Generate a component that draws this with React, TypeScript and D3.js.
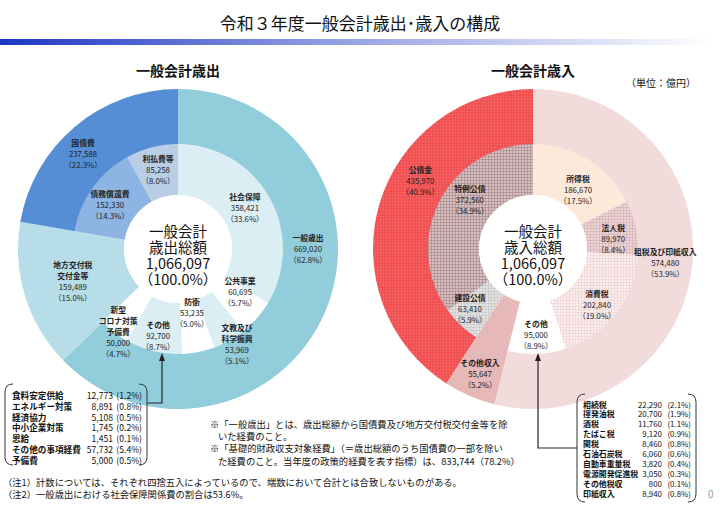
import React from 'react';
import * as d3 from 'd3';

const TOTAL = 1066097;

// 歳出
const expOuterNames = ['一般歳出', '地方交付税\n交付金等', '国債費'];
const expOuterValues = [669020, 159489, 237588];
const expInnerNames = ['社会保障', '公共事業', '文教及び\n科学振興', '防衛', 'その他', '新型\nコロナ対策\n予備費', '', '債務償還費', '利払費等'];
const expInnerValues = [358421, 60695, 53969, 53235, 92700, 50000, 159489, 152330, 85258];

// 歳入
const revOuterNames = ['租税及び印紙収入', 'その他収入', '公債金'];
const revOuterValues = [574480, 55647, 435970];
const revInnerNames = ['所得税', '法人税', '消費税', 'その他', '', '建設公債', '特例公債'];
const revInnerValues = [186670, 89970, 202840, 95000, 55647, 63410, 372560];

// 内訳
const expDetailNames = ['食料安定供給', 'エネルギー対策', '経済協力', '中小企業対策', '恩給', 'その他の事項経費', '予備費'];
const expDetailValues = [12773, 8891, 5108, 1745, 1451, 57732, 5000];
const revDetailNames = ['相続税', '揮発油税', '酒税', 'たばこ税', '関税', '石油石炭税', '自動車重量税', '電源開発促進税', 'その他税収', '印紙収入'];
const revDetailValues = [22290, 20700, 11760, 9120, 8460, 6060, 3820, 3050, 800, 8940];

// label placement (angle deg clockwise from top, radius)
const expOuterLabelPos: ([number, number] | null)[] = [[89.6, 130], [253, 110], [315.3, 135]];
const expInnerLabelPos: ([number, number] | null)[] = [[58.5, 78.5], [124.7, 75.5], [148.2, 112], [167.7, 65.5], [192.9, 89], [215.9, 102], null, [303.5, 81.5], [345.8, 81.5]];
const revOuterLabelPos: ([number, number] | null)[] = [[96, 133], [203.1, 135], [301.4, 132]];
const revInnerLabelPos: ([number, number] | null)[] = [[36.9, 75], [82.2, 81], [131.2, 85], [178, 86], null, [226.4, 87], [307.9, 80]];

const expOuterFill = ['#92cddc', '#b7dee8', '#558ed5'];
const expInnerFill = ['#dbeef4', '#ffffff', '#dbeef4', '#ffffff', '#dbeef4', '#ffffff', '#b7dee8', '#8eb4e3', '#b9cde5'];
const revOuterFill = ['#f2dcdb', '#e6b9b8', 'url(#pRed)'];
const revInnerFill = ['#fde9d9', 'url(#pPink)', 'url(#pLight)', '#ffffff', '#e6b9b8', 'url(#pGrey)', 'url(#pMauve)'];

const FONT = '"Noto Sans CJK JP", "Noto Sans", sans-serif';
const fmt = d3.format(',');
const pct = (v: number) => (v / TOTAL * 100).toFixed(1);

const R0 = 54, R1 = 105, R2 = 160;
const C1 = { x: 178, y: 249 };
const C2 = { x: 533, y: 249 };

function polar(c: { x: number; y: number }, deg: number, r: number) {
  const a = (deg * Math.PI) / 180;
  return { x: c.x + r * Math.sin(a), y: c.y - r * Math.cos(a) };
}

function Donut({ c, outerV, outerF, innerV, innerF }: any) {
  const pie = d3.pie<number>().sort(null).value((d) => d);
  const oArcs = pie(outerV);
  const iArcs = pie(innerV);
  const oa = d3.arc<d3.PieArcDatum<number>>().innerRadius(R1 - 0.5).outerRadius(R2);
  const ia = d3.arc<d3.PieArcDatum<number>>().innerRadius(R0).outerRadius(R1);
  return (
    <g transform={`translate(${c.x},${c.y})`}>
      {oArcs.map((a, i) => <path key={'o' + i} d={oa(a) || ''} fill={outerF[i]} />)}
      {iArcs.map((a, i) => <path key={'i' + i} d={ia(a) || ''} fill={innerF[i]} />)}
      <circle r={R0} fill="#fff" />
    </g>
  );
}

function Labels({ c, names, values, pos }: any) {
  return (
    <g fontFamily={FONT} fontSize={7.8} fill="#222" textAnchor="middle">
      {names.map((n: string, i: number) => {
        const p = pos[i];
        if (!p || !n) return null;
        const pt = polar(c, p[0], p[1]);
        const lines = [...n.split('\n'), fmt(values[i]), `（${pct(values[i])}%）`];
        const nn = n.split('\n').length;
        const lh = 11;
        return (
          <g key={i}>
            {lines.map((t, j) => (
              <text key={j} x={pt.x} y={pt.y + (j - (lines.length - 1) / 2) * lh} dominantBaseline="central" fontWeight={j < nn ? 'bold' : 'normal'}>{t}</text>
            ))}
          </g>
        );
      })}
    </g>
  );
}

function CenterText({ c, label }: any) {
  const lines = ['一般会計', label, fmt(TOTAL), '（100.0%）'];
  return (
    <text fontFamily={FONT} fontSize={14.5} fill="#111" textAnchor="middle" x={c.x} y={c.y - 12}>
      {lines.map((t, j) => (
        <tspan key={j} x={c.x} dy={j === 0 ? 0 : 16}>{t}</tspan>
      ))}
    </text>
  );
}

function DetailList({ names, values, x0, y0, dy, numX, pctX, fs }: any) {
  return (
    <g fontFamily={FONT} fontSize={fs} fill="#111">
      {names.map((n: string, i: number) => (
        <g key={i}>
          <text x={x0} y={y0 + i * dy} dominantBaseline="central" fontWeight="bold">{n}</text>
          <text x={numX} y={y0 + i * dy} dominantBaseline="central" textAnchor="end">{fmt(values[i])}</text>
          <text x={pctX} y={y0 + i * dy} dominantBaseline="central" textAnchor="end">{`(${pct(values[i])}%)`}</text>
        </g>
      ))}
    </g>
  );
}

function Bracket({ x1, x2, y1, y2 }: any) {
  const k = 8;
  return (
    <g fill="none" stroke="#333" strokeWidth={1}>
      <path d={`M${x1 + k} ${y1} Q${x1} ${y1} ${x1} ${y1 + k} L${x1} ${y2 - k} Q${x1} ${y2} ${x1 + k} ${y2}`} />
      <path d={`M${x2 - k} ${y1} Q${x2} ${y1} ${x2} ${y1 + k} L${x2} ${y2 - k} Q${x2} ${y2} ${x2 - k} ${y2}`} />
    </g>
  );
}

export default function App() {
  return (
    <svg width={720} height={509} style={{ position: 'absolute', left: 0, top: 0, background: '#fff' }}>
      <defs>
        <linearGradient id="bar" x1="0" x2="1" y1="0" y2="0">
          <stop offset="0" stopColor="#1c36c4" />
          <stop offset="0.45" stopColor="#8f9be2" />
          <stop offset="1" stopColor="#ffffff" />
        </linearGradient>
        <pattern id="pRed" width="3" height="3" patternUnits="userSpaceOnUse">
          <rect width="3" height="3" fill="#f24c4e" />
          <path d="M0 0.5H3M0.5 0V3" stroke="#f26a6a" strokeWidth="0.6" />
        </pattern>
        <pattern id="pMauve" width="3" height="3" patternUnits="userSpaceOnUse">
          <rect width="3" height="3" fill="#d7c0c2" />
          <path d="M0 0.5H3M0.5 0V3" stroke="#a98a8d" strokeWidth="0.7" />
        </pattern>
        <pattern id="pPink" width="3" height="3" patternUnits="userSpaceOnUse">
          <rect width="3" height="3" fill="#ecd3d5" />
          <path d="M0 0.5H3M0.5 0V3" stroke="#d3aeb2" strokeWidth="0.6" />
        </pattern>
        <pattern id="pLight" width="3" height="3" patternUnits="userSpaceOnUse">
          <rect width="3" height="3" fill="#fbeeee" />
          <path d="M0 0.5H3M0.5 0V3" stroke="#ecd0d0" strokeWidth="0.6" />
        </pattern>
        <pattern id="pGrey" width="3" height="3" patternUnits="userSpaceOnUse">
          <rect width="3" height="3" fill="#e2e2e2" />
          <path d="M0 0.5H3M0.5 0V3" stroke="#c4c4c4" strokeWidth="0.6" />
        </pattern>
      </defs>

      <text x={360} y={22} textAnchor="middle" dominantBaseline="central" fontFamily={FONT} fontSize={17} fill="#111">令和３年度一般会計歳出･歳入の構成</text>
      <rect x={0} y={39} width={715} height={6} fill="url(#bar)" />

      <text x={178} y={70} textAnchor="middle" dominantBaseline="central" fontFamily={FONT} fontSize={14} fontWeight="bold" fill="#111">一般会計歳出</text>
      <text x={533} y={70} textAnchor="middle" dominantBaseline="central" fontFamily={FONT} fontSize={14} fontWeight="bold" fill="#111">一般会計歳入</text>
      <text x={661} y={82} textAnchor="middle" dominantBaseline="central" fontFamily={FONT} fontSize={10} fill="#111">（単位：億円）</text>

      <Donut c={C1} outerV={expOuterValues} outerF={expOuterFill} innerV={expInnerValues} innerF={expInnerFill} />
      <Donut c={C2} outerV={revOuterValues} outerF={revOuterFill} innerV={revInnerValues} innerF={revInnerFill} />

      <Labels c={C1} names={expOuterNames} values={expOuterValues} pos={expOuterLabelPos} />
      <Labels c={C1} names={expInnerNames} values={expInnerValues} pos={expInnerLabelPos} />
      <Labels c={C2} names={revOuterNames} values={revOuterValues} pos={revOuterLabelPos} />
      <Labels c={C2} names={revInnerNames} values={revInnerValues} pos={revInnerLabelPos} />

      <CenterText c={C1} label="歳出総額" />
      <CenterText c={C2} label="歳入総額" />

      {/* arrows */}
      <g stroke="#222" strokeWidth={1.2} fill="none">
        <path d="M162 358 L162 403 L147 403" />
        <path d="M538 359 L538 448 L577 448" />
      </g>
      <path d="M162 353 L159 361 L165 361 Z" fill="#222" />
      <path d="M538 353 L535 361 L541 361 Z" fill="#222" />

      <Bracket x1={5} x2={147} y1={384} y2={465} />
      <DetailList names={expDetailNames} values={expDetailValues} x0={12} y0={395} dy={10.8} numX={113} pctX={142} fs={8.6} />

      <Bracket x1={577} x2={696} y1={394} y2={502} />
      <DetailList names={revDetailNames} values={revDetailValues} x0={583} y0={404} dy={9.9} numX={662} pctX={691} fs={7.9} />

      <g fontFamily={FONT} fontSize={9.3} fill="#111">
        <text x={210} y={424} dominantBaseline="central">※「一般歳出」とは、歳出総額から国債費及び地方交付税交付金等を除</text>
        <text x={218} y={436} dominantBaseline="central">いた経費のこと。</text>
        <text x={210} y={448} dominantBaseline="central">※「基礎的財政収支対象経費」（＝歳出総額のうち国債費の一部を除い</text>
        <text x={218} y={461} dominantBaseline="central">た経費のこと。当年度の政策的経費を表す指標）は、833,744（78.2%）</text>
        <text x={3} y={482} dominantBaseline="central">（注1）計数については、それぞれ四捨五入によっているので、端数において合計とは合致しないものがある。</text>
        <text x={3} y={494} dominantBaseline="central">（注2）一般歳出における社会保障関係費の割合は53.6%。</text>
      </g>
      <text x={708} y={493} dominantBaseline="central" fontFamily={FONT} fontSize={10} fill="#999">0</text>
    </svg>
  );
}
